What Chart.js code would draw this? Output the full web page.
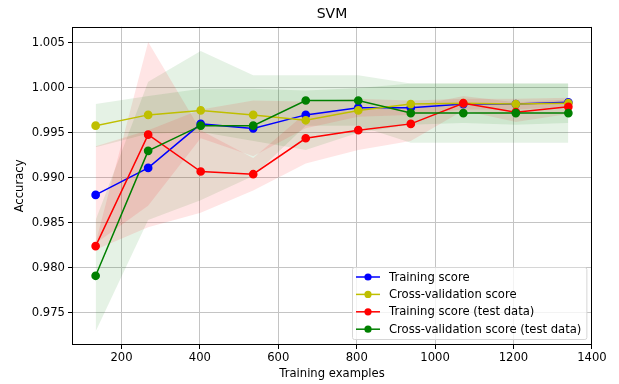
<!DOCTYPE html>
<html>
<head>
<meta charset="utf-8">
<script src="https://cdn.jsdelivr.net/npm/chart.js@4.4.1/dist/chart.umd.min.js"></script>
<style>
  html, body { margin: 0; padding: 0; background: #fff; }
  #wrap { width: 619px; height: 384px; }
</style>
</head>
<body>
<div id="wrap"><canvas id="miGrafica" width="619" height="384"></canvas></div>
<script>
// training set sizes
const tamanos = [134, 268, 402, 536, 670, 804, 938, 1072, 1206, 1340];

// Training score (blue) and its spread
const trainMedia = [0.9881, 0.9911, 0.9960, 0.9955, 0.9970, 0.9978, 0.9978, 0.9982, 0.9982, 0.9984];
const trainDesv  = [0.0054, 0.0042, 0.0016, 0.0031, 0.0015, 0.0010, 0.0008, 0.0006, 0.0006, 0.0005];

// Cross-validation score (yellow)
const cvMedia = [0.9958, 0.9970, 0.9975, 0.9970, 0.9964, 0.9975, 0.9982, 0.9983, 0.9982, 0.9983];
const cvDesv  = [0.0024, 0.0021, 0.0024, 0.0029, 0.0033, 0.0025, 0.0023, 0.0022, 0.0023, 0.0022];

// Training score (test data) (red)
const testTrainMedia = [0.9824, 0.9948, 0.9907, 0.9904, 0.9944, 0.9953, 0.9960, 0.9983, 0.9973, 0.9979];
const testTrainDesv  = [0.0004, 0.0103, 0.0046, 0.0018, 0.0028, 0.0022, 0.0019, 0.0008, 0.0011, 0.0008];

// Cross-validation score (test data) (green)
const testCvMedia = [0.9791, 0.9930, 0.9958, 0.9958, 0.9986, 0.9986, 0.9972, 0.9972, 0.9972, 0.9972];
const testCvDesv  = [0.0062, 0.0077, 0.0083, 0.0056, 0.0028, 0.0028, 0.0033, 0.0033, 0.0033, 0.0033];

const xTicks = [200, 400, 600, 800, 1000, 1200, 1400];
const yTicks = [0.975, 0.980, 0.985, 0.990, 0.995, 1.000, 1.005];

const fuente = "'DejaVu Sans', sans-serif";
const tamFuente = 11.6;

function puntos(valores) {
    return tamanos.map((x, i) => ({ x: x, y: valores[i] }));
}

function banda(media, desv, color) {
    const abajo = media.map((m, i) => m - desv[i]);
    const arriba = media.map((m, i) => m + desv[i]);
    return [
        { data: puntos(abajo), borderWidth: 0, borderColor: 'rgba(0,0,0,0)', pointRadius: 0, fill: false },
        { data: puntos(arriba), borderWidth: 0, borderColor: 'rgba(0,0,0,0)', pointRadius: 0, fill: '-1', backgroundColor: color }
    ];
}

function linea(label, valores, color) {
    return {
        label: label,
        data: puntos(valores),
        borderColor: color,
        backgroundColor: color,
        pointBackgroundColor: color,
        pointBorderColor: color,
        borderWidth: 1.5,
        pointRadius: 3.6,
        pointHoverRadius: 3.6,
        fill: false,
        tension: 0
    };
}

const rojoBanda = 'rgba(255, 0, 0, 0.1)';
const verdeBanda = 'rgba(0, 128, 0, 0.1)';

// index 0 is painted last, so the green line sits on top
const lineas = [
    linea('Cross-validation score (test data)', testCvMedia, '#008000'),
    linea('Training score (test data)', testTrainMedia, '#ff0000'),
    linea('Cross-validation score', cvMedia, '#bfbf00'),
    linea('Training score', trainMedia, '#0000ff')
];

const datasets = lineas.concat(
    banda(trainMedia, trainDesv, rojoBanda),
    banda(cvMedia, cvDesv, verdeBanda),
    banda(testTrainMedia, testTrainDesv, rojoBanda),
    banda(testCvMedia, testCvDesv, verdeBanda)
);

const ordenLeyenda = [3, 2, 1, 0];

const marcoYLeyenda = {
    id: 'marcoYLeyenda',
    afterDatasetsDraw(chart) {
        const { ctx, chartArea } = chart;
        ctx.save();
        // spines
        ctx.strokeStyle = '#000';
        ctx.lineWidth = 1;
        ctx.strokeRect(Math.round(chartArea.left) + 0.5, Math.round(chartArea.top) + 0.5,
            Math.round(chartArea.right - chartArea.left) - 1, Math.round(chartArea.bottom - chartArea.top) - 1);

        // legend in the lower right corner
        ctx.font = tamFuente + 'px ' + fuente;
        const filas = ordenLeyenda.map(i => chart.data.datasets[i]);
        const anchoTexto = Math.max(...filas.map(d => ctx.measureText(d.label).width));
        const alto = 72;
        const ancho = anchoTexto + 42;
        const x0 = Math.round(chartArea.right - 6 - ancho);
        const y0 = Math.round(chartArea.bottom - 6 - alto);
        ctx.fillStyle = 'rgba(255,255,255,0.8)';
        ctx.strokeStyle = '#d6d6d6';
        ctx.beginPath();
        ctx.roundRect(x0 + 0.5, y0 + 0.5, ancho, alto, 2);
        ctx.fill();
        ctx.stroke();
        filas.forEach((d, k) => {
            const y = y0 + 10 + k * 17.4;
            ctx.strokeStyle = d.borderColor;
            ctx.lineWidth = 1.5;
            ctx.beginPath();
            ctx.moveTo(x0 + 4, y);
            ctx.lineTo(x0 + 28, y);
            ctx.stroke();
            ctx.fillStyle = d.borderColor;
            ctx.beginPath();
            ctx.arc(x0 + 16, y, 3.6, 0, Math.PI * 2);
            ctx.fill();
            ctx.fillStyle = '#000';
            ctx.textBaseline = 'middle';
            ctx.fillText(d.label, x0 + 37, y + 0.5);
        });
        ctx.restore();
    }
};

const ctx = document.getElementById('miGrafica').getContext('2d');

new Chart(ctx, {
    type: 'line',
    data: { datasets: datasets },
    options: {
        responsive: false,
        animation: false,
        layout: { padding: { left: 0, right: 27, top: 0, bottom: 0 } },
        scales: {
            x: {
                type: 'linear',
                min: 73.7,
                max: 1400.3,
                afterBuildTicks: s => { s.ticks = xTicks.map(v => ({ value: v })); },
                afterFit: s => { s.height = 39; },
                grid: { color: '#c4c4c4', lineWidth: 1, tickLength: 4, tickColor: '#000' },
                border: { display: false },
                ticks: { color: '#000', font: { family: fuente, size: tamFuente }, padding: 2, maxRotation: 0,
                    callback: v => String(v) },
                title: { display: true, text: 'Training examples', color: '#000', font: { family: fuente, size: tamFuente }, padding: { top: 0, bottom: 3 } }
            },
            y: {
                type: 'linear',
                min: 0.9714,
                max: 1.0068,
                afterBuildTicks: s => { s.ticks = yTicks.map(v => ({ value: v })); },
                afterFit: s => { s.width = 72; },
                grid: { color: '#c4c4c4', lineWidth: 1, tickLength: 4, tickColor: '#000' },
                border: { display: false },
                ticks: { color: '#000', font: { family: fuente, size: tamFuente }, padding: 3,
                    callback: v => v.toFixed(3) },
                title: { display: true, text: 'Accuracy', color: '#000', font: { family: fuente, size: tamFuente }, padding: { top: 13, bottom: 0 } }
            }
        },
        plugins: {
            filler: { drawTime: 'beforeDatasetsDraw' },
            legend: { display: false },
            tooltip: { enabled: false },
            title: {
                display: true,
                text: 'SVM',
                fullSize: false,
                color: '#000',
                font: { family: fuente, size: 14, weight: 'normal' },
                padding: { top: 6, bottom: 4 }
            }
        }
    },
    plugins: [marcoYLeyenda]
});
</script>
</body>
</html>
